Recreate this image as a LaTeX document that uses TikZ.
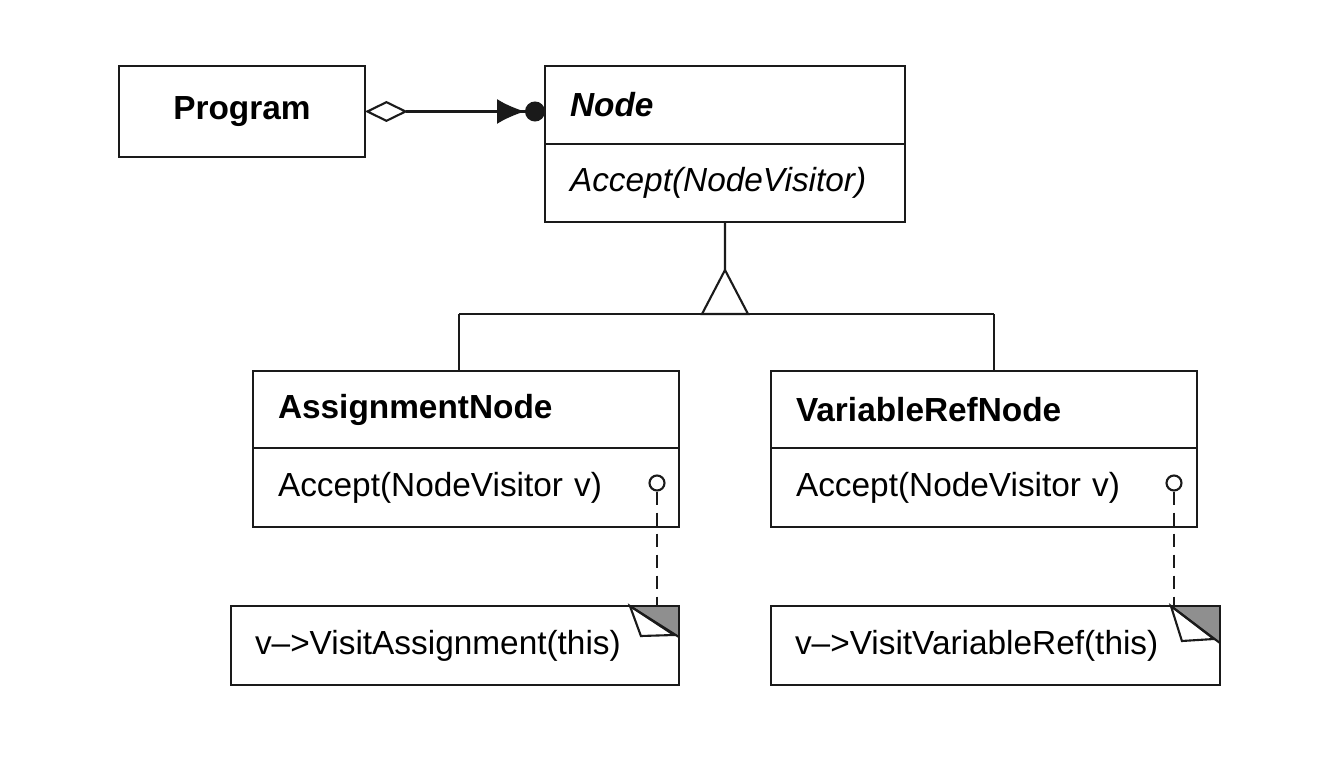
\documentclass[tikz,border=0pt]{standalone}
\usepackage{fontspec}
\setmainfont{Liberation Sans}
\usetikzlibrary{arrows.meta, positioning}
\definecolor{Ink}{HTML}{1A1A1A}
\definecolor{FoldGray}{HTML}{8F8F8F}
\tikzset{
  line/.style={draw=Ink, line width=1.2pt},
  classbox/.style={line, anchor=north west, align=left, inner xsep=0.5cm, outer sep=0pt, font=\fontsize{19}{22}\selectfont},
  classname/.style={font=\fontsize{19}{22}\selectfont\bfseries},
  notebox/.style={anchor=north west, align=left, inner xsep=0.48cm, outer sep=0pt, font=\fontsize{19}{22}\selectfont},
  opdot/.style={circle, line, fill=white, minimum size=0.3cm, inner sep=0pt},
  notelink/.style={line, dash pattern=on 0.26cm off 0.16cm},
  aggregate/.style={line, {Diamond[open, length=0.86cm, width=0.42cm]}-{Latex[length=0.56cm, width=0.5cm] Circle[length=0.4cm]}},
}

\begin{document}
\begin{tikzpicture}[x=0.02cm, y=-0.02cm]
  \useasboundingbox (0,0) rectangle (1334,760);

  % top row
  \node[classbox, classname, align=center, minimum width=4.92cm, minimum height=1.82cm] (program) at (119,66) {Program};
  \node[classbox, classname, text width=6.2cm, minimum height=1.56cm] (nodeHead) at (545,66) {\itshape Node};
  \node[classbox, text width=6.2cm, minimum height=1.56cm] (nodeOps) at (nodeHead.south west) {\itshape Accept(NodeVisitor)};
  \draw[aggregate] (program.east) -- (program.east -| nodeHead.west);

  % subclasses
  \node[classbox, classname, text width=7.52cm, minimum height=1.54cm] (asgHead) at (253,371) {AssignmentNode};
  \node[classbox, text width=7.52cm, minimum height=1.58cm] (asgOps) at (asgHead.south west) {Accept(NodeVisitor v)};
  \node[classbox, classname, text width=7.52cm, minimum height=1.54cm] (varHead) at (771,371) {VariableRefNode};
  \node[classbox, text width=7.52cm, minimum height=1.58cm] (varOps) at (varHead.south west) {Accept(NodeVisitor v)};

  % inheritance
  \coordinate (apex) at (725,270);
  \coordinate (leftDrop) at (459,314);
  \coordinate (rightDrop) at (994,314);
  \draw[line] (nodeOps.south) -- (apex);
  \draw[line] (leftDrop) -- (rightDrop);
  \draw[line] (leftDrop) -- (leftDrop |- asgHead.north);
  \draw[line] (rightDrop) -- (rightDrop |- varHead.north);
  \draw[line, fill=white] (apex) -- (748,314) -- (702,314) -- cycle;

  % notes
  \node[notebox, text width=8.0cm, minimum height=1.58cm] (noteAsg) at (231,606) {v\textendash>VisitAssignment(this)};
  \node[notebox, text width=8.02cm, minimum height=1.58cm] (noteVar) at (771,606) {v\textendash>VisitVariableRef(this)};
  \node[opdot] (dotAsg) at (657,483) {};
  \node[opdot] (dotVar) at (1174,483) {};
  \draw[notelink] (dotAsg) -- (dotAsg |- noteAsg.north);
  \draw[notelink] (dotVar) -- (dotVar |- noteVar.north);

  % folded corners
  \fill[FoldGray] (noteAsg.north east) -- ++(-49,0) -- ++(49,31) -- cycle;
  \draw[line, fill=white] (noteAsg.north east) ++(-49,0) -- ++(11,30) -- ++(33,-1) -- cycle;
  \draw[line] (noteAsg.north east) ++(-49,0) -- ++(49,31);
  \fill[FoldGray] (noteVar.north east) -- ++(-49,0) -- ++(49,37) -- cycle;
  \draw[line, fill=white] (noteVar.north east) ++(-49,0) -- ++(11,35) -- ++(32,-2) -- cycle;
  \draw[line] (noteVar.north east) ++(-49,0) -- ++(49,37);
  \draw[line] (noteAsg.north west) rectangle (noteAsg.south east);
  \draw[line] (noteVar.north west) rectangle (noteVar.south east);
\end{tikzpicture}
\end{document}
